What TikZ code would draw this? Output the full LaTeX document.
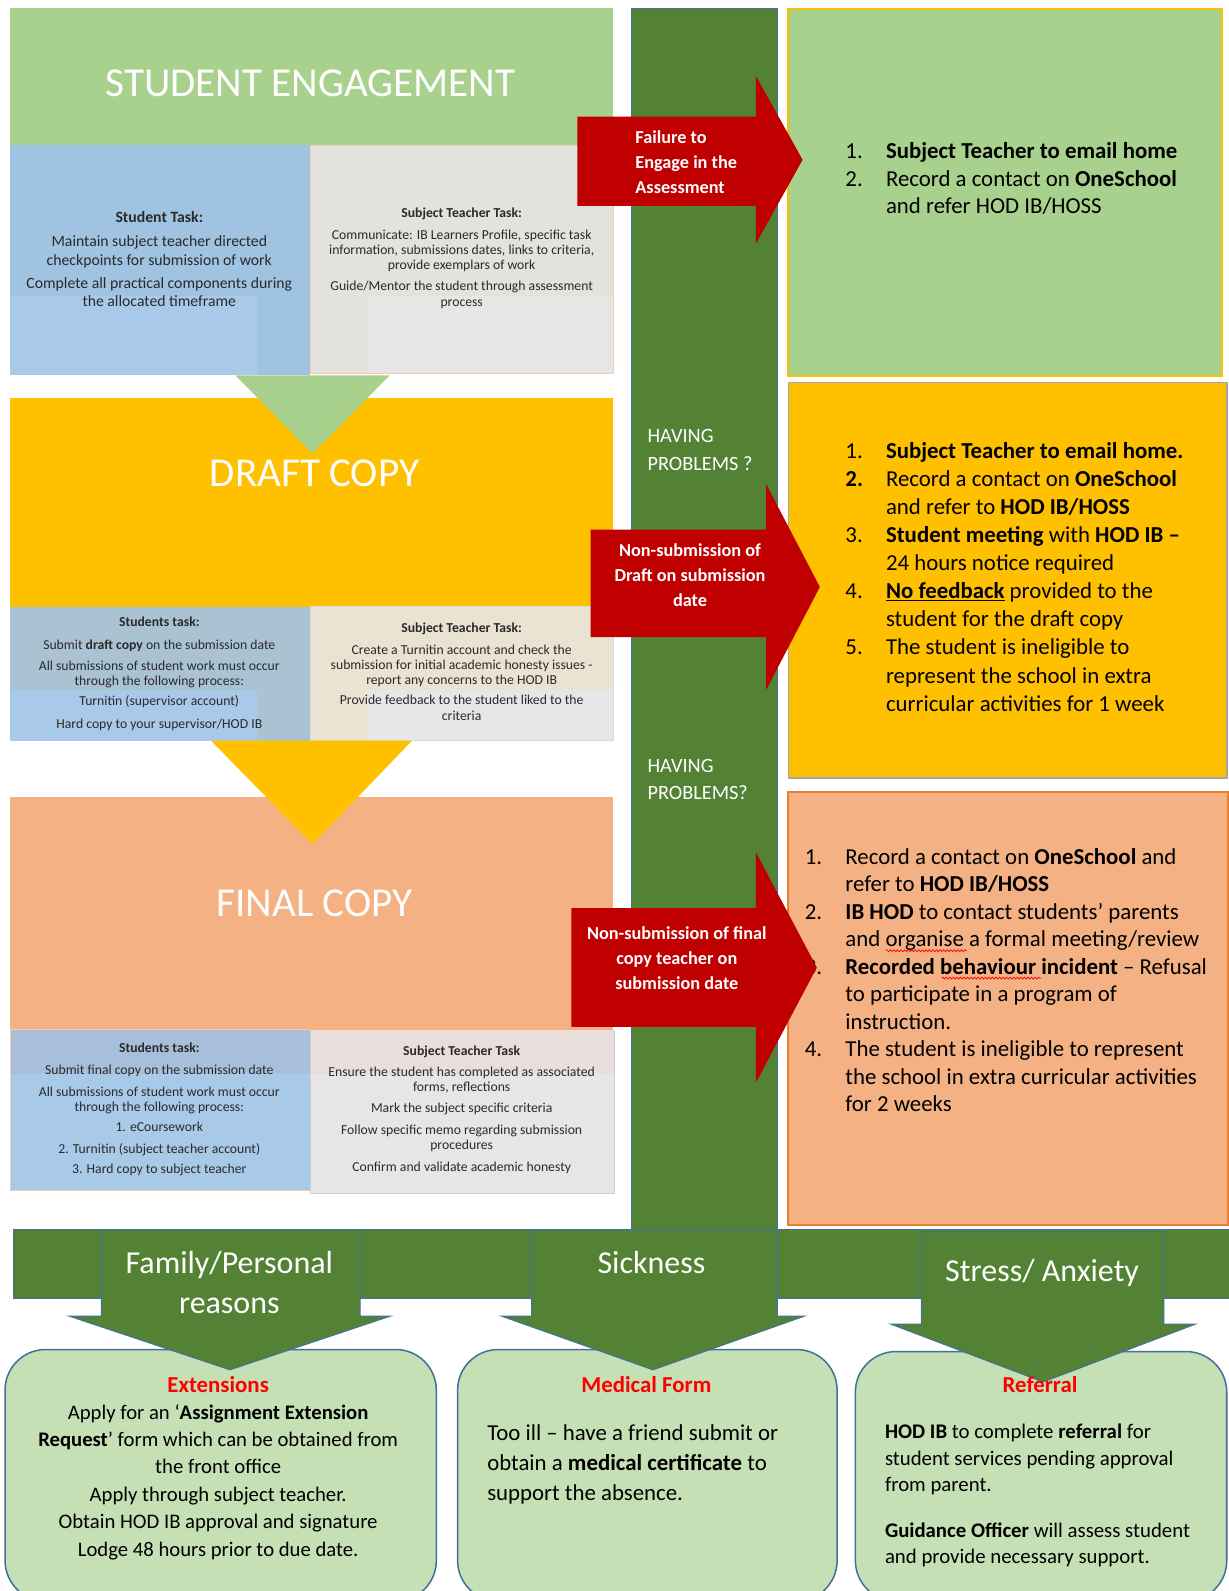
\documentclass[tikz,border=0pt]{standalone}
\usepackage{fontspec}
\setmainfont{Carlito}
\usetikzlibrary{decorations.pathmorphing}
\definecolor{lgreen}{HTML}{A9D18E}
\definecolor{dgreen}{HTML}{548235}
\definecolor{gold}{HTML}{FFC000}
\definecolor{salmon}{HTML}{F4B183}
\definecolor{darkred}{HTML}{C00000}
\definecolor{boxgreen}{HTML}{C5E0B4}
\definecolor{edgeblue}{HTML}{41719C}
\definecolor{bluebox}{HTML}{9FC3E0}
\definecolor{bluelight}{HTML}{A8CAE8}
\definecolor{greybox}{HTML}{E1E3DC}
\definecolor{greylight}{HTML}{E6E6E6}
\definecolor{draftblue}{HTML}{A9C3D3}
\definecolor{draftbeige}{HTML}{EAE3D1}
\definecolor{finalblue}{HTML}{A7BFDA}
\definecolor{finalpink}{HTML}{E9DEDB}
\definecolor{txtc}{HTML}{2A2A2A}
\definecolor{pinkedge}{HTML}{F8CBAD}
\definecolor{paleblue}{HTML}{D6DCE5}
\definecolor{greyedge}{HTML}{A5A5A5}
\definecolor{orangeedge}{HTML}{ED7D31}
\definecolor{spellred}{HTML}{FF0000}
\newcommand\myfs[2]{\fontsize{#1}{#2}\selectfont}
\newcommand\redarrowshape[7]{\fill[redarr] (#1,#2) -- (#4,#2) -- (#4,#5) -- (#7,{(#5+#6)/2}) -- (#4,#6) -- (#4,#3) -- (#1,#3) -- cycle;}
\newcommand\downarrowshape[7]{\filldraw[downarr] (#1,#3) -- (#2,#3) -- (#2,#4) -- (#6,#4) -- ({(#5+#6)/2},#7) -- (#5,#4) -- (#1,#4) -- cycle;}
\begin{document}
\begin{tikzpicture}[x=1pt,y=-1pt,
  bandtitle/.style={text=white, inner sep=0, font=\myfs{40.5}{48}},
  smalltxt/.style={align=center, text=txtc, inner sep=0},
  listnode/.style={anchor=north west, inner sep=0, text=black},
  arrowtxt/.style={text=white, inner sep=0, font=\myfs{18}{24.5}\bfseries},
  havingtxt/.style={text=white, inner sep=0, align=left, anchor=west, font=\myfs{20}{27}},
  outcome/.style={fill=boxgreen, draw=edgeblue, line width=1.5pt, rounded corners=40pt},
  downarr/.style={fill=dgreen, draw=edgeblue, line width=1pt},
  redarr/.style={fill=darkred},
  reasontxt/.style={text=white, inner sep=0, align=center, font=\myfs{31.5}{40}},
  outhead/.style={text=spellred, inner sep=0, font=\myfs{22.5}{27}\bfseries},
  spell/.style={spellred, line width=0.7pt, decorate, decoration={snake, amplitude=1pt, segment length=3.5pt}},
]
\useasboundingbox (0,0) rectangle (1211,1568);
\fill[white] (0,0) rectangle (1211,1568);

% ---------- STUDENT ENGAGEMENT ----------
\fill[lgreen] (10,8) rectangle (604,143);
\node[bandtitle] (engtitle) at (306,82) {STUDENT ENGAGEMENT};
\fill[bluebox] (10,143) rectangle (306,370);
\fill[bluelight] (10,292) rectangle (253,370);
\filldraw[fill=greybox, draw=pinkedge, line width=1pt] (306,143) rectangle (605,368);
\fill[greylight] (362,292) rectangle (604.5,367.5);
\node[smalltxt, font=\myfs{15.5}{18.5}] (engstu) at (157,255.5) {\textbf{Student Task:}\\[5pt]
Maintain subject teacher directed\\ checkpoints for submission of work\\[4pt]
Complete all practical components during\\ the allocated timeframe};
\node[smalltxt, font=\myfs{13.5}{15}] (engtea) at (455,254.5) {\textbf{Subject Teacher Task:}\\[6pt]
Communicate: IB Learners Profile, specific task\\ information, submissions dates, links to criteria,\\ provide exemplars of work\\[6pt]
Guide/Mentor the student through assessment\\ process};

% ---------- DRAFT COPY ----------
\fill[gold] (10,392) rectangle (604,598);
\fill[lgreen] (232,370) -- (384,370) -- (308,447) -- cycle;
\node[bandtitle] (drafttitle) at (310,466) {DRAFT COPY};
\fill[draftblue] (10,598) rectangle (306,730);
\fill[bluelight] (10,680) rectangle (253,730);
\filldraw[fill=draftbeige, draw=paleblue, line width=1pt] (306,598) rectangle (605,730);
\fill[greylight] (362,680) rectangle (604.5,729.5);
\node[smalltxt, font=\myfs{13.5}{15}] (draftstu) at (157,664) {\textbf{Students task:}\\[7pt]
Submit \textbf{draft copy} on the submission date\\[6pt]
All submissions of student work must occur\\ through the following process:\\[5pt]
Turnitin (supervisor account)\\[7pt]
Hard copy to your supervisor/HOD IB};
\node[smalltxt, font=\myfs{13.5}{15}] (drafttea) at (455,662) {\textbf{Subject Teacher Task:}\\[6pt]
Create a Turnitin account and check the\\ submission for initial academic honesty issues -\\ report any concerns to the HOD IB\\[5pt]
Provide feedback to the student liked to the\\ criteria};

% ---------- FINAL COPY ----------
\fill[salmon] (10,785) rectangle (604,1015);
\fill[gold] (208,730) -- (406,730) -- (308,832) -- cycle;
\node[bandtitle] (finaltitle) at (310,890) {FINAL COPY};
\filldraw[fill=bluelight, draw=pinkedge, line width=1pt] (10,1015) rectangle (306,1173);
\fill[finalblue] (10.5,1015.5) rectangle (306,1058);
\filldraw[fill=greylight, draw=greylight!90!black, line width=0.6pt] (306,1015) rectangle (605,1176);
\fill[finalpink] (306.3,1015.3) rectangle (604.7,1058);
\node[smalltxt, font=\myfs{13.5}{15}] (finalstu) at (157,1093.5) {\textbf{Students task:}\\[6pt]
Submit final copy on the submission date\\[7pt]
All submissions of student work must occur\\ through the following process:\\[5pt]
1. eCoursework\\[6pt]
2. Turnitin (subject teacher account)\\[5pt]
3. Hard copy to subject teacher};
\node[smalltxt, font=\myfs{13.5}{15}] (finaltea) at (455,1094) {\textbf{Subject Teacher Task}\\[5pt]
Ensure the student has completed as associated\\ forms, reflections\\[6pt]
Mark the subject specific criteria\\[6pt]
Follow specific memo regarding submission\\ procedures\\[7pt]
Confirm and validate academic honesty};

% ---------- vertical bar ----------
\filldraw[fill=dgreen, draw=edgeblue, line width=1pt] (622,8) rectangle (766,1212);

% ---------- right boxes ----------
\filldraw[fill=lgreen, draw=gold, line width=2pt] (777,9) rectangle (1204,371);
\filldraw[fill=gold, draw=greyedge, line width=1.5pt] (777,377) rectangle (1209,767);
\filldraw[fill=salmon, draw=orangeedge, line width=2pt] (777,781) rectangle (1210,1207);

\node[listnode, font=\myfs{22.5}{27}] (list1) at (833,137.5) {%
\begin{tabular}{@{}p{40pt}@{}l@{}}
1. & \textbf{Subject Teacher to email home}\\
2. & Record a contact on \textbf{OneSchool}\\
   & and refer HOD IB/HOSS
\end{tabular}};

\node[listnode, font=\myfs{22.5}{27.7}] (list2) at (833,432) {%
\begin{tabular}{@{}p{40pt}@{}l@{}}
1. & \textbf{Subject Teacher to email home.}\\
\textbf{2.} & Record a contact on \textbf{OneSchool}\\
   & and refer to \textbf{HOD IB/HOSS}\\
3. & \textbf{Student meeting} with \textbf{HOD IB --}\\
   & 24 hours notice required\\
4. & \underline{\textbf{No feedback}} provided to the\\
   & student for the draft copy\\
5. & The student is ineligible to\\
   & represent the school in extra\\
   & curricular activities for 1 week
\end{tabular}};

\node[listnode, font=\myfs{22.5}{27.1}] (list3) at (793,832.5) {%
\begin{tabular}{@{}p{40pt}@{}l@{}}
1. & Record a contact on \textbf{OneSchool} and\\
   & refer to \textbf{HOD IB/HOSS}\\
2. & \textbf{IB HOD} to contact students’ parents\\
   & and organise a formal meeting/review\\
3. & \textbf{Recorded behaviour incident} -- Refusal\\
   & to participate in a program of\\
   & instruction.\\
4. & The student is ineligible to represent\\
   & the school in extra curricular activities\\
   & for 2 weeks
\end{tabular}};
\coordinate (w1a) at (873,937);
\coordinate (w1b) at (953,937);
\coordinate (w2a) at (928,964);
\coordinate (w2b) at (1026,964);
\draw[spell] (w1a) -- (w1b);
\draw[spell] (w2a) -- (w2b);

% ---------- red arrows ----------
\redarrowshape{569}{115}{203}{745}{75}{240}{791}
\node[arrowtxt, align=left, anchor=west] (fail) at (626,159.5) {Failure to\\Engage in the\\Assessment};
\redarrowshape{582}{522}{628}{755}{477}{680}{808}
\node[arrowtxt, align=center] (nsdraft) at (680,566.5) {Non-submission of\\Draft on submission\\date};
\redarrowshape{563}{895}{1012}{745}{840}{1067}{805}
\node[arrowtxt, align=center] (nsfinal) at (667,944) {Non-submission of final\\copy teacher on\\submission date};

\node[havingtxt] (hp1) at (638,443.5) {HAVING\\PROBLEMS ?};
\node[havingtxt] (hp2) at (638,768.5) {HAVING\\PROBLEMS?};

% ---------- bottom outcome boxes ----------
\filldraw[outcome] (5,1330) rectangle (430,1578);
\filldraw[outcome] (451,1330) rectangle (825,1578);
\filldraw[outcome] (843,1332) rectangle (1209,1578);

% ---------- bottom band and arrows ----------
\filldraw[downarr] (13,1212) rectangle (1216,1280);
\downarrowshape{100}{355}{1212}{1297}{68}{385}{1350}
\downarrowshape{524}{766}{1212}{1297}{494}{793}{1350}
\downarrowshape{908}{1147}{1214}{1305}{878}{1178}{1362}
\node[reasontxt] (fam) at (226,1264) {Family/Personal\\reasons};
\node[reasontxt] (sick) at (642,1244) {Sickness};
\node[reasontxt] (stress) at (1027,1255) {Stress/ Anxiety};

\node[outhead] (exth) at (215,1365) {Extensions};
\node[align=center, inner sep=0, font=\myfs{20.4}{27}] (extb) at (215,1460.5) {Apply for an ‘\textbf{Assignment Extension}\\
\textbf{Request}’ form which can be obtained from\\ the front office\\ Apply through subject teacher.\\
Obtain HOD IB approval and signature\\ Lodge 48 hours prior to due date.};

\node[outhead] (medh) at (637,1365) {Medical Form};
\node[anchor=west, align=left, inner sep=0, font=\myfs{22.5}{29.5}] (medb) at (480,1443.5) {Too ill -- have a friend submit or\\
obtain a \textbf{medical certificate} to\\ support the absence.};

\node[outhead] (refh) at (1025,1365) {Referral};
\node[anchor=west, align=left, inner sep=0, font=\myfs{20.5}{26}] (refb) at (872,1474) {\textbf{HOD IB} to complete \textbf{referral} for\\
student services pending approval\\ from parent.\\[19pt]
\textbf{Guidance Officer} will assess student\\ and provide necessary support.};
\end{tikzpicture}
\end{document}
